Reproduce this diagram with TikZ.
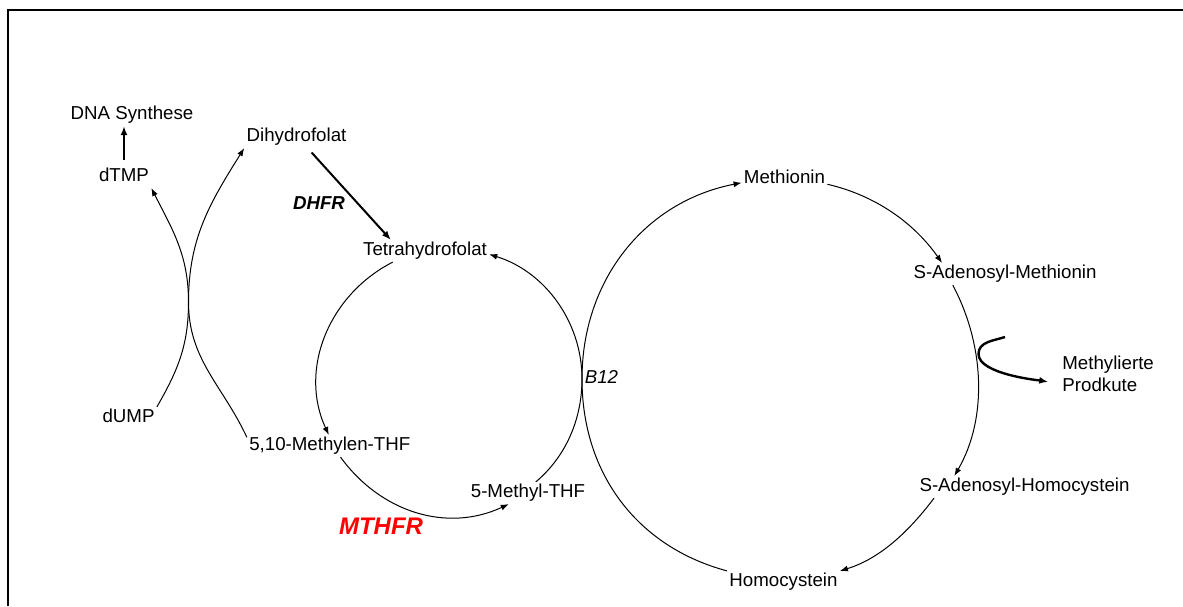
\documentclass[tikz,border=0pt]{standalone}
\usepackage{fontspec}
\setmainfont{Liberation Sans}
\usetikzlibrary{arrows.meta}

\begin{document}
\begin{tikzpicture}[x=0.5pt, y=-0.5pt,
font=\fontsize{9.35}{10.75}\selectfont,
lbl/.style = {inner sep=1pt, text height=6.8pt, text depth=1.9pt},
enz/.style = {inner sep=1pt, font=\fontsize{9.35}{10.75}\selectfont\bfseries\itshape},
flow/.style = {line width=0.5pt, -{Latex[length=4pt, width=3pt]}},
flowb/.style = {line width=1pt, -{Latex[length=4.5pt, width=3.5pt]}},
rim/.style = {line width=1.15pt}]
\useasboundingbox (0,0) rectangle (1183,606);
\draw[rim] (8,606) -- (8,10) -- (1183,10);

\node[lbl] (dna) at (132,115) {DNA Synthese};
\node[lbl] (dtmp) at (124,177) {dTMP};
\node[lbl] (dump) at (128.5,418) {dUMP};
\node[lbl] (dhf) at (296.5,137) {Dihydrofolat};
\node[lbl] (thf) at (425,251) {Tetrahydrofolat};
\node[lbl] (m10) at (329.8,446) {5,10-Methylen-THF};
\node[lbl] (mthf) at (528,493) {5-Methyl-THF};
\node[lbl] (met) at (784.5,179) {Methionin};
\node[lbl] (sam) at (1005,274) {S-Adenosyl-Methionin};
\node[lbl] (sah) at (1024.5,487) {S-Adenosyl-Homocystein};
\node[lbl] (hcy) at (783.5,582) {Homocystein};
\node[inner sep=1pt, align=left, anchor=west] (prod) at (1060,374) {Methylierte\\Prodkute};
\node[enz] (dhfr) at (319,203) {DHFR};
\node[enz, red, font=\fontsize{12}{14}\selectfont\bfseries\itshape] (mthfr) at (381,526) {MTHFR};
\node[inner sep=1pt, font=\fontsize{9.35}{10.75}\selectfont\itshape] (b12) at (601.5,377) {B12};

\coordinate (xc) at (188.5,302);
\coordinate (b12pt) at (582,379);
\coordinate (mbs) at (1005,337);
\coordinate (mtp) at (978.5,354);

\draw[flowb, shorten <=3pt] (dtmp) -- (dtmp |- dna.south);
\draw[flowb, shorten <=3pt] (dhf.-45) -- (thf.162);
\draw[flow] (dump.north east) to[out=60, in=-90] (xc) to[out=90, in=238] (dhf.south west);
\draw[flow] (m10.174) to[out=115, in=-90] (xc) to[out=90, in=297] (dtmp.south east);

\draw[flow] (thf.199) to[out=207, in=115] (m10.95);
\draw[flow] (m10.-46) to[out=-54, in=205] (mthf.210);
\draw[flow] (mthf.55) to[out=40, in=-90, looseness=0.9] (b12pt) to[out=90, in=-17, looseness=0.95] (thf.-3);

\draw[flow] (hcy.north west) to[out=165, in=-90] (b12pt) to[out=90, in=191] (met.185);
\draw[flow] (met.-7) to[out=-13, in=125, looseness=0.9] (sam.170);
\draw[flow] (sam.192) to[out=-62, in=60, looseness=0.9] (sah.171.5);
\draw[flow] (sah.187) to[out=233, in=17, looseness=0.9] (hcy.north east);

\draw[line width=1.2pt, -{Latex[length=4.5pt, width=3.5pt]}, shorten >=6pt] (mbs) to[out=198, in=90] (mtp) to[out=-90, in=170, looseness=0.6] ([yshift=-5pt]prod.west);
\end{tikzpicture}
\end{document}
